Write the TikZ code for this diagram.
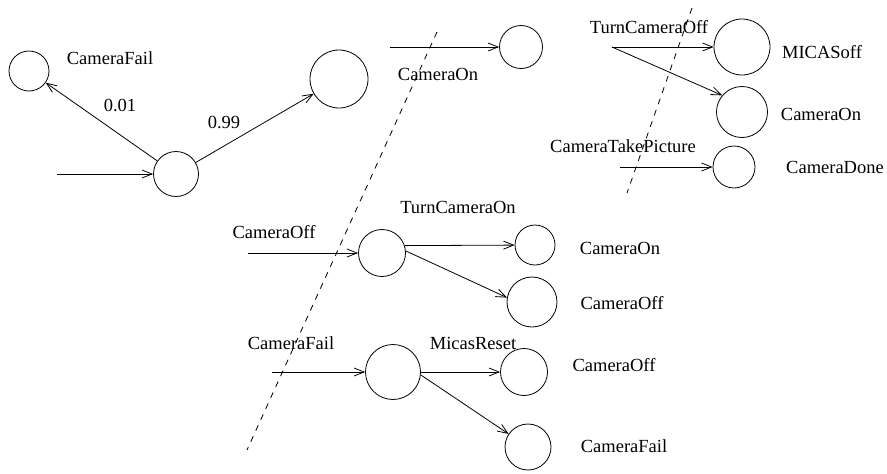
\documentclass[tikz,border=0pt]{standalone}
\usepackage{fontspec}
\setmainfont{Liberation Serif}
\usetikzlibrary{arrows.meta}
\tikzset{
  state/.style={draw,circle,inner sep=0pt,line width=0.8pt},
  lbl/.style={inner sep=0pt,font=\fontsize{18.5}{21}\selectfont},
  trans/.style={-{Straight Barb[length=10pt,width=8pt]},line width=0.8pt},
  cutline/.style={line width=0.8pt,dash pattern=on 6pt off 6pt}
}
\begin{document}
\begin{tikzpicture}[x=1pt,y=-1pt]
\useasboundingbox (0,0) rectangle (887,474);

% Draw states
\node[state,minimum size=40pt] (fail) at (29,71) {};
\node[state,minimum size=58pt] (ok) at (339,79) {};
\node[state,minimum size=45pt] (start) at (176,174) {};
\node[state,minimum size=43pt] (on0) at (521,47) {};
\node[state,minimum size=56pt] (moff) at (742,47) {};
\node[state,minimum size=51pt] (on2) at (742,112) {};
\node[state,minimum size=42pt] (done) at (734,167) {};
\node[state,minimum size=47pt] (tco) at (382,253) {};
\node[state,minimum size=40pt] (on3) at (535,245) {};
\node[state,minimum size=50pt] (off3) at (532,302) {};
\node[state,minimum size=55pt] (mr) at (393,372) {};
\node[state,minimum size=47pt] (off4) at (524,372) {};
\node[state,minimum size=46pt] (fail4) at (528,447) {};

% Free ends of incoming arrows
\coordinate (in1) at (57,174);
\coordinate (in2) at (390,47);
\coordinate (fan) at (612,47);
\coordinate (in3) at (620,167);
\coordinate (in4) at (248,253);
\coordinate (in5) at (272,372);

% Draw transitions
\draw[trans] (in1) -- (start);
\draw[trans] (start) -- (fail);
\draw[trans] (start) -- (ok);
\draw[trans] (in2) -- (on0);
\draw[trans] (fan) -- (moff);
\draw[trans] (fan) -- (on2.140);
\draw[trans] (in3) -- (done);
\draw[trans] (in4) -- (tco);
\draw[trans] (tco.18) -- (on3);
\draw[trans] (tco.5) -- (off3.170);
\draw[trans] (in5) -- (mr);
\draw[trans] (mr) -- (off4);
\draw[trans] (mr.-6) -- (fail4.146);

% Draw cut lines
\draw[cutline] (437,32) -- (247,450);
\draw[cutline] (692,8) -- (627,193);

% Draw labels
\foreach \name/\x/\y/\txt in {lfail/110/58/CameraFail, lpa/120/105/0.01,
    lpb/224/122/0.99, lon0/438/74/CameraOn, lturnoff/649/27/TurnCameraOff,
    lmoff/822/52/MICASoff, lon2/821/114/CameraOn,
    ltake/623/146/CameraTakePicture, ldone/835/167/CameraDone,
    lturnon/458/207/TurnCameraOn, loff/274/232/CameraOff,
    lon3/620/248/CameraOn, loff3/622/303/CameraOff,
    lfail2/291/343/CameraFail, lreset/473/343/MicasReset,
    loff4/614/365/CameraOff, lfail4/624/446/CameraFail} {
    \node[lbl] (\name) at (\x,\y) {\txt};
}
\end{tikzpicture}
\end{document}
